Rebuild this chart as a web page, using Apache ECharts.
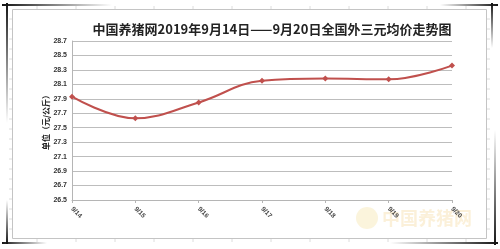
<!DOCTYPE html>
<html><head><meta charset="utf-8">
<script src="https://cdn.jsdelivr.net/npm/echarts@6/dist/echarts.min.js"></script>
<style>html,body{margin:0;padding:0;background:#fff}#c{width:500px;height:249px}</style>
</head><body><div id="c"></div>
<script>
var titleText = '中国养猪网2019年9月14日——9月20日全国外三元均价走势图';
var yName = '单位（元/公斤）';
var categories = ['9/14','9/15','9/16','9/17','9/18','9/19','9/20'];
var prices = [27.93, 27.63, 27.85, 28.15, 28.18, 28.17, 28.36];
var yMin = 26.5, yMax = 28.7, yStep = 0.1;

var chart = echarts.init(document.getElementById('c'), null, {renderer:'canvas'});
var cjk = '"Noto Sans CJK SC", sans-serif';

function grad(x1,y1,x2,y2){
  return {type:'linear',x:x1,y:y1,x2:x2,y2:y2,colorStops:[{offset:0,color:'rgba(20,20,20,1)'},{offset:1,color:'rgba(20,20,20,0)'}]};
}
var graphics = [
  {type:'rect', shape:{x:12.5,y:9.5,width:474,height:229}, style:{fill:'none',stroke:'#c4c4c4',lineWidth:1}, z:-1},
  // crop marks
  {type:'rect', shape:{x:2,y:4,width:110,height:2}, style:{fill:grad(0,0,1,0)}},
  {type:'rect', shape:{x:6,y:3,width:2,height:120}, style:{fill:grad(0,0,0,1)}},
  {type:'rect', shape:{x:2,y:242,width:45,height:2}, style:{fill:grad(0,0,1,0)}},
  {type:'rect', shape:{x:6,y:200,width:2,height:44}, style:{fill:grad(0,1,0,0)}},
  {type:'rect', shape:{x:390,y:242,width:108,height:2}, style:{fill:grad(1,0,0,0)}},
  {type:'rect', shape:{x:494,y:130,width:2,height:115}, style:{fill:grad(0,1,0,0)}},
  {type:'rect', shape:{x:440,y:4,width:58,height:2}, style:{fill:grad(1,0,0,0)}},
  {type:'rect', shape:{x:491,y:3,width:2,height:45}, style:{fill:grad(0,0,0,1)}},
  // watermark
  {type:'circle', shape:{cx:367,cy:218,r:11}, style:{fill:'rgba(240,215,130,0.28)'}},
  {type:'text', x:382, y:218, style:{text:'中国养猪网', font:'bold 18px '+cjk, fill:'rgba(240,200,120,0.28)', textVerticalAlign:'middle'}}
];
for (var yy = 19; yy < 238; yy += 10) {
  graphics.push({type:'line', shape:{x1:9,y1:yy,x2:12,y2:yy}, style:{stroke:'#dcdcdc',lineWidth:1}});
  graphics.push({type:'line', shape:{x1:487,y1:yy,x2:490,y2:yy}, style:{stroke:'#dcdcdc',lineWidth:1}});
}
for (var xx = 37; xx < 487; xx += 39) {
  graphics.push({type:'line', shape:{x1:xx,y1:239,x2:xx,y2:242}, style:{stroke:'#dcdcdc',lineWidth:1}});
  graphics.push({type:'line', shape:{x1:xx,y1:6,x2:xx,y2:9}, style:{stroke:'#dcdcdc',lineWidth:1}});
}

chart.setOption({
  animation:false,
  backgroundColor:'#fff',
  title:{text:titleText, left:267, top:18, textAlign:'center',
    textStyle:{fontFamily:cjk, fontSize:13, fontWeight:'bold', color:'#222'}},
  grid:{left:72, right:48, top:41, bottom:49},
  xAxis:{type:'category', data:categories, boundaryGap:false,
    axisLine:{lineStyle:{color:'#b5b5b5',width:1}},
    axisTick:{show:true, length:3, lineStyle:{color:'#b5b5b5'}},
    axisLabel:{rotate:-45, margin:8, fontSize:6.5, fontWeight:'bold', color:'#444', fontFamily:'"Liberation Sans", sans-serif'}},
  yAxis:{type:'value', min:yMin, max:yMax, interval:yStep,
    name:yName, nameLocation:'middle', nameGap:22, nameMoveOverlap:false,
    nameTextStyle:{fontFamily:cjk, fontSize:8, fontWeight:'bold', color:'#222'},
    axisLine:{show:true, lineStyle:{color:'#b5b5b5'}},
    axisTick:{show:false},
    axisLabel:{margin:5, fontSize:7, fontWeight:'bold', color:'#333', fontFamily:'"Liberation Sans", sans-serif',
      formatter:function(v){ return Math.round(v*10)%2===1 ? v.toFixed(1) : ''; }},
    splitLine:{show:true, showMinLine:true, lineStyle:{color:['#bdbdbd','rgba(0,0,0,0)'], width:1}}},
  series:[{type:'line', data:prices, smooth:0.4, symbol:'diamond', symbolSize:6,
    lineStyle:{color:'#c0504d', width:2}, itemStyle:{color:'#c0504d'}}],
  graphic:graphics
});
</script></body></html>
